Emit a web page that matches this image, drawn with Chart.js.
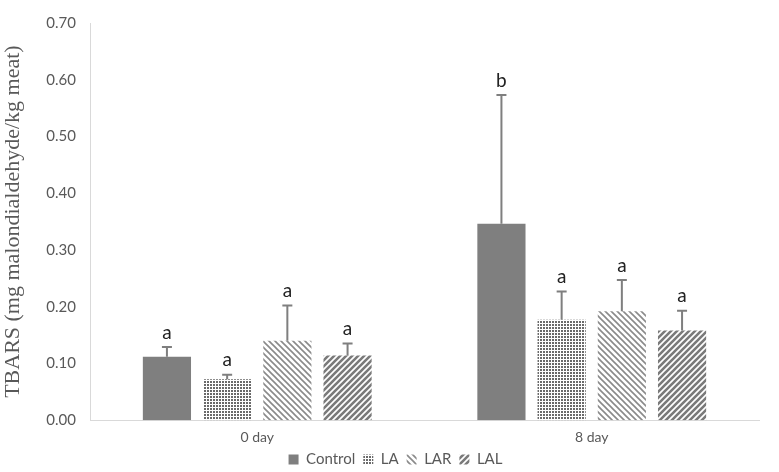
<!DOCTYPE html>
<html><head><meta charset="utf-8">
<script src="https://cdn.jsdelivr.net/npm/chart.js@4.4.1/dist/chart.umd.min.js"></script>
<style>html,body{margin:0;padding:0;background:#fff}#wrap{width:779px;height:472px}</style>
</head><body><div id="wrap"><canvas id="c"></canvas></div>
<script>
const categories = ["0 day", "8 day"];
const seriesNames = ["Control", "LA", "LAR", "LAL"];
const controlValues = [0.112, 0.346];
const laValues = [0.072, 0.177];
const larValues = [0.140, 0.192];
const lalValues = [0.114, 0.158];
const controlErr = [0.017, 0.227];
const laErr = [0.008, 0.050];
const larErr = [0.062, 0.055];
const lalErr = [0.021, 0.035];
const controlLetters = ["a", "b"];
const laLetters = ["a", "a"];
const larLetters = ["a", "a"];
const lalLetters = ["a", "a"];

function makePattern(kind){
  const c = document.createElement('canvas');
  const ctx = c.getContext('2d');
  if(kind==='dots'){
    c.width=3;c.height=3;
    ctx.fillStyle='#fff';ctx.fillRect(0,0,3,3);
    ctx.fillStyle='#6a6a6a';ctx.fillRect(0,0,2,2);
  } else if(kind==='back'){
    const s=6;c.width=s;c.height=s;
    ctx.fillStyle='#fff';ctx.fillRect(0,0,s,s);
    ctx.strokeStyle='#8a8a8a';ctx.lineWidth=1.6;
    ctx.beginPath();
    ctx.moveTo(-1,-1);ctx.lineTo(s+1,s+1);
    ctx.moveTo(-1,s-1);ctx.lineTo(1,s+1);
    ctx.moveTo(s-1,-1);ctx.lineTo(s+1,1);
    ctx.stroke();
  } else {
    const s=6;c.width=s;c.height=s;
    ctx.fillStyle='#fff';ctx.fillRect(0,0,s,s);
    ctx.strokeStyle='#7a7a7a';ctx.lineWidth=2.6;
    ctx.beginPath();
    ctx.moveTo(-1,s+1);ctx.lineTo(s+1,-1);
    ctx.moveTo(-1,1);ctx.lineTo(1,-1);
    ctx.moveTo(s-1,s+1);ctx.lineTo(s+1,s-1);
    ctx.stroke();
  }
  return ctx.createPattern(c,'repeat');
}

const errs = [controlErr, laErr, larErr, lalErr];
const letters = [controlLetters, laLetters, larLetters, lalLetters];

const errPlugin = {
  id:'errbars',
  beforeDraw(chart){
    const lg = chart.legend;
    if(lg && !lg._shifted){ lg.top -= 11; lg.bottom -= 11; lg.left += 16; lg.right += 16; lg._shifted = true; }
  },
  afterLayout(chart){ if(chart.legend) chart.legend._shifted = false; },
  afterDatasetsDraw(chart){
    const ctx = chart.ctx;
    const y = chart.scales.y;
    chart.data.datasets.forEach((ds,i)=>{
      const meta = chart.getDatasetMeta(i);
      meta.data.forEach((bar,j)=>{
        const v = ds.data[j];
        const top = y.getPixelForValue(v + errs[i][j]);
        const base = y.getPixelForValue(v);
        ctx.save();
        ctx.strokeStyle='#7f7f7f';ctx.lineWidth=2;
        ctx.beginPath();
        ctx.moveTo(bar.x, base);ctx.lineTo(bar.x, top);
        ctx.moveTo(bar.x-5, top);ctx.lineTo(bar.x+5, top);
        ctx.stroke();
        ctx.fillStyle='#222';
        ctx.font='19px Lato, sans-serif';
        ctx.textAlign='center';ctx.textBaseline='bottom';
        ctx.fillText(letters[i][j], bar.x, top-5);
        ctx.restore();
      });
    });
  }
};

new Chart(document.getElementById('c'),{
  type:'bar',
  data:{
    labels:categories,
    datasets:[
      {label:seriesNames[0],data:controlValues,backgroundColor:'#7f7f7f'},
      {label:seriesNames[1],data:laValues,backgroundColor:makePattern('dots')},
      {label:seriesNames[2],data:larValues,backgroundColor:makePattern('back')},
      {label:seriesNames[3],data:lalValues,backgroundColor:makePattern('fwd')}
    ]
  },
  options:{
    responsive:true,maintainAspectRatio:false,animation:false,
    datasets:{bar:{categoryPercentage:0.72,barPercentage:0.8}},
    layout:{padding:{top:23,right:20,left:0,bottom:-16}},
    plugins:{
      legend:{position:'bottom',labels:{boxWidth:10,boxHeight:10,padding:8,color:'#595959',font:{family:'Lato, sans-serif',size:15}}},
      tooltip:{enabled:false}
    },
    scales:{
      x:{grid:{display:false,drawTicks:false},border:{color:'#d9d9d9'},
         ticks:{color:'#595959',padding:9,font:{family:'Lato, sans-serif',size:14}}},
      y:{min:0,max:0.7,grid:{display:false,drawTicks:false},border:{color:'#d9d9d9'},
         afterFit(s){s.width=90;},
         ticks:{stepSize:0.1,color:'#595959',padding:14,font:{family:'Lato, sans-serif',size:15},callback:v=>v.toFixed(2)},
         title:{display:true,text:'TBARS (mg malondialdehyde/kg meat)',color:'#595959',font:{family:'"Liberation Serif", serif',size:22},padding:{top:0,bottom:2}}}
    }
  },
  plugins:[errPlugin]
});
</script></body></html>
